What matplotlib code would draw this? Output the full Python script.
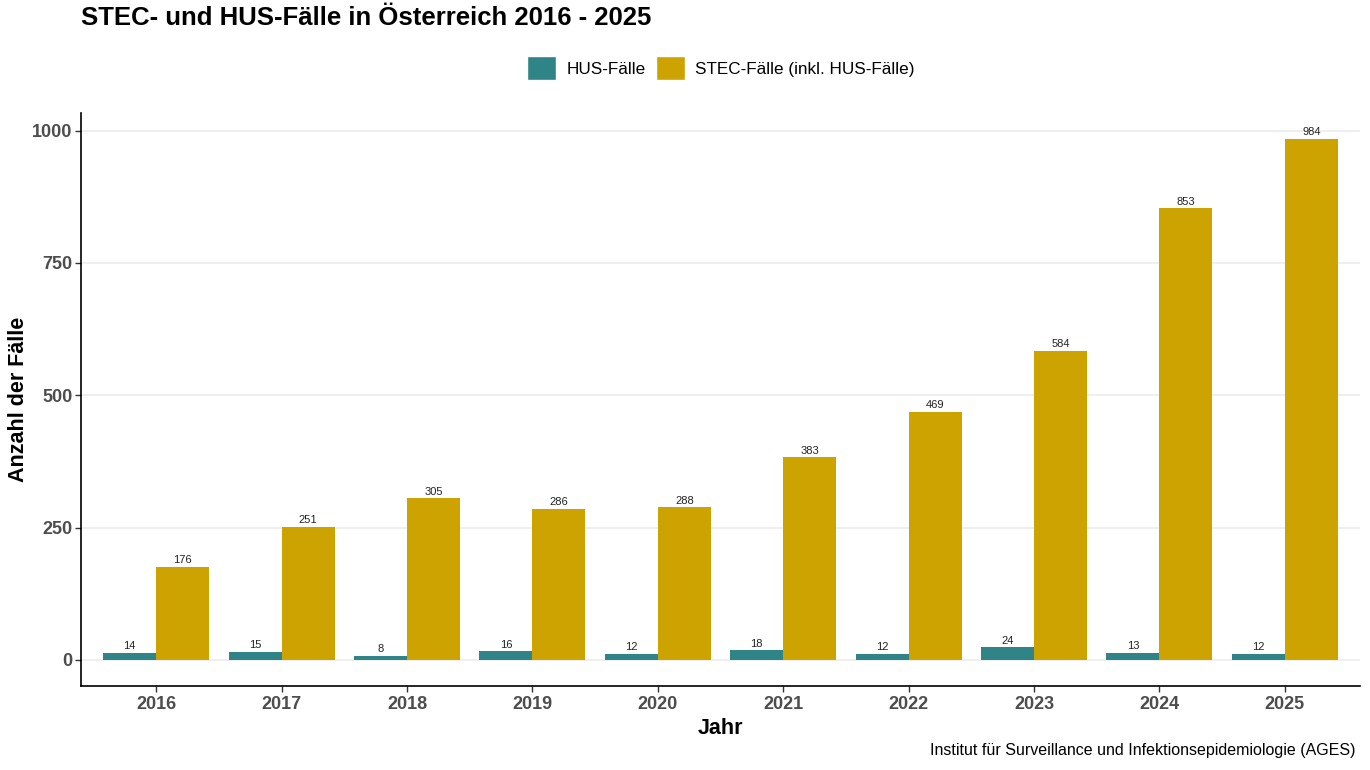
import matplotlib
matplotlib.use("Agg")
import matplotlib.pyplot as plt
import numpy as np
from matplotlib.patches import Patch

plt.rcParams['font.family'] = ['Liberation Sans', 'DejaVu Sans']

years = ["2016", "2017", "2018", "2019", "2020", "2021", "2022", "2023", "2024", "2025"]
hus = [14, 15, 8, 16, 12, 18, 12, 24, 13, 12]
stec = [176, 251, 305, 286, 288, 383, 469, 584, 853, 984]
series_names = ["HUS-Fälle", "STEC-Fälle (inkl. HUS-Fälle)"]
colors = ["#2E8486", "#CCA300"]

fig = plt.figure(figsize=(13.7, 7.7), dpi=100)
ax = fig.add_axes([81/1370, 84/770, (1360-81)/1370, (686-113)/770])

x = np.arange(len(years))
w = 0.423
b1 = ax.bar(x - w/2, hus, width=w, color=colors[0], zorder=3)
b2 = ax.bar(x + w/2, stec, width=w, color=colors[1], zorder=3)
for bars, vals in ((b1, hus), (b2, stec)):
    for r, v in zip(bars, vals):
        ax.text(r.get_x() + r.get_width()/2, v + 3, str(v), ha='center', va='bottom',
                fontsize=8, color='#222222', zorder=4)

ax.set_xlim(-0.6, len(years) - 1 + 0.6)
ax.set_ylim(-49.2, 1033.2)
ax.set_xticks(x)
ax.set_xticklabels(years)
ax.set_yticks([0, 250, 500, 750, 1000])
ax.yaxis.grid(True, color='#EBEBEB', linewidth=1.1, zorder=0)
ax.xaxis.grid(False)
for s in ['top', 'right']:
    ax.spines[s].set_visible(False)
for s in ['left', 'bottom']:
    ax.spines[s].set_linewidth(1.2)
    ax.spines[s].set_color('black')
ax.tick_params(axis='both', length=4, width=1, color='#333333', labelsize=13,
               labelcolor='#4D4D4D')
ax.tick_params(axis='y', pad=2)
for lab in ax.get_xticklabels() + ax.get_yticklabels():
    lab.set_fontweight('bold')

ax.set_xlabel("Jahr", fontsize=15.5, fontweight='bold', labelpad=3)
ax.set_ylabel("Anzahl der Fälle", fontsize=15.5, fontweight='bold')
ax.yaxis.set_label_coords((29 - 81) / 1279, 0.5)

fig.text(81/1370, 1 - 18/770, "STEC- und HUS-Fälle in Österreich 2016 - 2025",
         fontsize=18.5, fontweight='bold', ha='left', va='center')

handles = [Patch(facecolor=c, edgecolor='white') for c in colors]
fig.legend(handles, series_names, loc='center', bbox_to_anchor=(721/1370, 1 - 68/770),
           ncol=2, frameon=False, fontsize=12.3, handlelength=1.7, handleheight=1.7,
           handletextpad=0.6, columnspacing=0.6)

fig.text(1355/1370, 1 - 750/770, "Institut für Surveillance und Infektionsepidemiologie (AGES)",
         fontsize=11.5, ha='right', va='center')

fig.savefig("out.png", dpi=100)
